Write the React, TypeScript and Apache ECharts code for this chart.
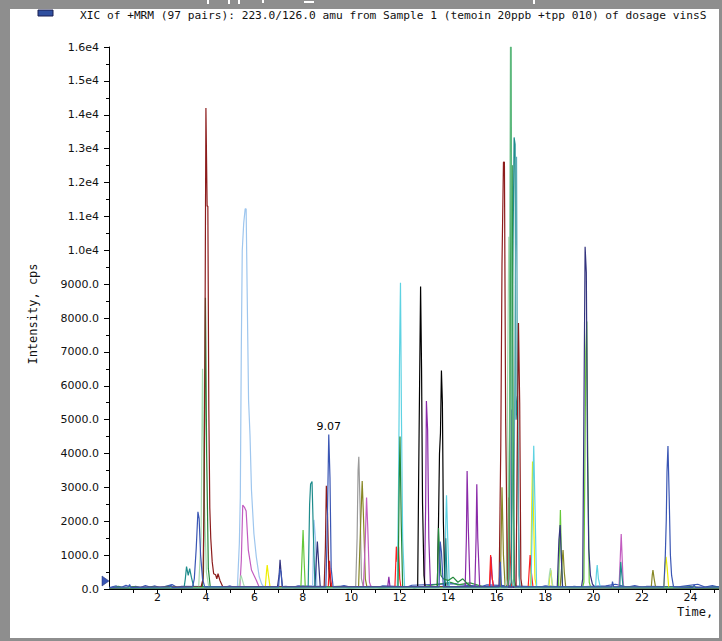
import React, { useEffect, useRef } from "react";
import * as echarts from "echarts";

// ---- data (retention time in min, intensity in cps) ----
const yTickMax = 16000;
const xTickMax = 25.3;

const darkRed: [number, number][] = [
  [0, 40], [3.8, 60], [3.88, 300], [3.92, 2400], [3.96, 7100], [4.0, 14200], [4.02, 14200], [4.05, 11300], [4.08, 11300],
  [4.12, 5300], [4.16, 2400], [4.2, 1500], [4.26, 800], [4.32, 450], [4.4, 420], [4.45, 300], [4.5, 450], [4.58, 250], [4.7, 60],
  [8.88, 60], [8.93, 1200], [8.97, 3050], [9.02, 2200], [9.07, 600], [9.15, 60],
  [16.1, 60], [16.17, 4250], [16.22, 9600], [16.28, 12600], [16.32, 12600], [16.37, 5000], [16.45, 60],
  [16.8, 60], [16.86, 5000], [16.9, 7850], [16.95, 5500], [17.0, 300], [17.05, 50], [25.3, 40],
];

const royalBlue: [number, number][] = [
  [0, 50], [0.8, 60], [0.85, 130], [0.9, 50], [2.5, 60], [2.55, 120], [2.6, 50],
  [3.45, 60], [3.52, 300], [3.6, 1200], [3.67, 2280], [3.72, 2080], [3.78, 1000], [3.86, 300], [3.95, 60],
  [7.0, 60], [7.05, 600], [7.1, 500], [7.15, 60],
  [8.95, 60], [9.0, 1500], [9.07, 4560], [9.12, 3300], [9.17, 600], [9.25, 60],
  [13.62, 60], [13.67, 1400], [13.72, 1100], [13.8, 60],
  [16.1, 60], [16.15, 800], [16.2, 60],
  [20.75, 60], [20.78, 220], [20.83, 60],
  [22.9, 60], [22.96, 1000], [23.0, 2040], [23.03, 3460], [23.07, 4220], [23.12, 2720], [23.17, 1010], [23.22, 400], [23.3, 60],
  [24.1, 50], [24.15, 120], [24.2, 50], [25.3, 60],
];

const navy: [number, number][] = [
  [0, 40], [6.95, 50], [7.02, 400], [7.06, 860], [7.1, 500], [7.16, 50],
  [8.5, 50], [8.56, 900], [8.6, 1400], [8.65, 800], [8.72, 50],
  [18.5, 50], [18.57, 1450], [18.62, 1890], [18.67, 900], [18.72, 50],
  [19.5, 50], [19.55, 300], [19.6, 5100], [19.65, 10100], [19.7, 9350], [19.75, 3900], [19.8, 1200], [19.87, 400], [19.95, 150],
  [20.05, 50], [25.3, 50],
];

const lightBlue: [number, number][] = [
  [0, 30], [5.3, 50], [5.38, 1360], [5.42, 2730], [5.46, 7060], [5.5, 10000], [5.56, 10800], [5.62, 11220], [5.66, 11220],
  [5.7, 8900], [5.76, 5580], [5.82, 4530], [5.88, 2920], [5.98, 1640], [6.08, 950], [6.2, 360], [6.3, 150], [6.4, 50],
  [8.4, 50], [8.46, 2040], [8.52, 1500], [8.58, 50], [25.3, 40],
];

const orchid: [number, number][] = [
  [0, 30], [5.4, 50], [5.46, 830], [5.52, 2480], [5.6, 2400], [5.66, 2300], [5.75, 1150], [5.88, 560], [6.08, 260], [6.2, 50],
  [10.5, 50], [10.58, 1500], [10.63, 2700], [10.68, 1800], [10.75, 200], [10.82, 50],
  [21.05, 50], [21.1, 900], [21.14, 1620], [21.18, 900], [21.23, 50], [25.3, 30],
];

const purple: [number, number][] = [
  [0, 30], [11.5, 50], [11.55, 360], [11.6, 50],
  [13.02, 50], [13.07, 2500], [13.1, 5550], [13.15, 4700], [13.2, 1500], [13.27, 50],
  [14.7, 50], [14.75, 1500], [14.78, 3480], [14.83, 1800], [14.9, 50],
  [15.1, 50], [15.15, 1500], [15.18, 3090], [15.22, 1500], [15.3, 50],
  [15.72, 50], [15.77, 950], [15.82, 300], [15.88, 50],
  [16.5, 50], [16.6, 5300], [16.65, 3500], [16.75, 200], [16.8, 50], [25.3, 30],
];

const teal: [number, number][] = [
  [0, 40], [3.1, 50], [3.15, 300], [3.2, 660], [3.27, 400], [3.33, 600], [3.4, 350], [3.5, 50],
  [8.22, 50], [8.28, 2500], [8.32, 3100], [8.38, 3170], [8.44, 1500], [8.5, 50],
  [13.85, 50], [13.9, 1500], [13.95, 300], [14.0, 50],
  [16.55, 50], [16.6, 200], [16.66, 9000], [16.72, 13330], [16.76, 13130], [16.8, 5000], [16.86, 5700], [16.9, 2000], [16.95, 50],
  [21.08, 50], [21.12, 800], [21.17, 400], [21.22, 50], [25.3, 40],
];

const cadet: [number, number][] = [
  [0, 40], [16.65, 40], [16.7, 300], [16.77, 9000], [16.82, 12760], [16.86, 6000], [16.92, 400], [16.97, 40], [25.3, 40],
];

const cyan: [number, number][] = [
  [0, 30], [11.9, 50], [11.95, 3000], [11.99, 6820], [12.03, 9040], [12.07, 5090], [12.12, 1500], [12.2, 50],
  [13.86, 50], [13.9, 2000], [13.93, 2770], [13.98, 1500], [14.05, 50],
  [17.42, 50], [17.48, 2500], [17.53, 4230], [17.58, 2500], [17.65, 50],
  [20.08, 50], [20.12, 500], [20.15, 710], [20.2, 300], [20.28, 50], [25.3, 30],
];

const green: [number, number][] = [
  [0, 40], [3.85, 50], [3.9, 500], [3.95, 5000], [3.98, 8600], [4.03, 4000], [4.1, 600], [4.18, 50],
  [11.93, 50], [11.98, 3240], [12.01, 4500], [12.06, 2000], [12.12, 50],
  [13.55, 50], [13.6, 1800], [13.65, 1000], [13.7, 400], [13.8, 300], [14.0, 250], [14.2, 350], [14.4, 200], [14.6, 300], [14.8, 150], [15.0, 50],
  [16.45, 50], [16.5, 300], [16.57, 9000], [16.6, 12500], [16.64, 12500], [16.68, 4400], [16.72, 300], [16.78, 50], [25.3, 40],
];

const mint: [number, number][] = [
  [0, 40], [16.44, 40], [16.48, 300], [16.53, 5000], [16.57, 16000], [16.6, 16000], [16.63, 6000], [16.7, 300], [16.75, 40], [25.3, 40],
];

const lime: [number, number][] = [
  [0, 40], [7.92, 50], [7.97, 1000], [8.01, 1740], [8.05, 900], [8.1, 50],
  [18.55, 50], [18.6, 1500], [18.63, 2330], [18.67, 1000], [18.72, 50],
  [19.55, 50], [19.6, 200], [19.68, 7000], [19.72, 7900], [19.76, 3900], [19.82, 200], [19.88, 50], [25.3, 40],
];

const paleGreen: [number, number][] = [
  [0, 30], [3.7, 50], [3.8, 1500], [3.86, 6500], [3.92, 3000], [4.02, 500], [4.12, 50],
  [5.35, 50], [5.45, 400], [5.55, 150], [5.6, 40],
  [16.35, 40], [16.4, 300], [16.45, 6000], [16.5, 10400], [16.55, 8000], [16.62, 300], [16.68, 40],
  [18.12, 40], [18.18, 450], [18.22, 620], [18.27, 300], [18.33, 40], [25.3, 30],
];

const olive: [number, number][] = [
  [0, 30], [10.3, 50], [10.38, 1800], [10.45, 3190], [10.5, 2200], [10.58, 300], [10.65, 40],
  [16.15, 50], [16.22, 3000], [16.28, 1000], [16.35, 50],
  [18.62, 50], [18.7, 800], [18.74, 1150], [18.79, 500], [18.85, 50],
  [22.38, 50], [22.42, 400], [22.45, 560], [22.5, 300], [22.56, 50], [25.3, 30],
];

const gray: [number, number][] = [
  [0, 30], [10.18, 50], [10.24, 1500], [10.28, 3500], [10.31, 3900], [10.36, 2500], [10.42, 300], [10.5, 50], [25.3, 30],
];

const black: [number, number][] = [
  [0, 30], [12.74, 50], [12.78, 3270], [12.82, 6120], [12.86, 8930], [12.9, 6500], [12.94, 2540], [13.0, 400], [13.05, 50],
  [13.55, 50], [13.6, 2000], [13.64, 4000], [13.68, 4600], [13.72, 6450], [13.76, 5500], [13.8, 2000], [13.86, 200], [13.92, 50], [25.3, 30],
];

const red: [number, number][] = [
  [0, 30], [9.05, 50], [9.1, 830], [9.15, 300], [9.2, 50],
  [11.8, 50], [11.86, 1250], [11.9, 800], [11.95, 1250], [12.0, 300], [12.05, 50],
  [15.7, 50], [15.75, 1000], [15.8, 400], [15.87, 50],
  [16.42, 50], [16.45, 200], [16.5, 2700], [16.55, 1200], [16.62, 50],
  [17.3, 50], [17.38, 1000], [17.43, 500], [17.5, 50], [25.3, 30],
];

const yellow: [number, number][] = [
  [0, 30], [6.45, 50], [6.5, 500], [6.53, 710], [6.58, 400], [6.65, 50],
  [17.37, 50], [17.4, 200], [17.45, 2500], [17.48, 3760], [17.52, 2200], [17.58, 300], [17.65, 50],
  [18.15, 50], [18.2, 400], [18.24, 550], [18.3, 50],
  [22.9, 50], [22.95, 700], [22.99, 950], [23.04, 600], [23.1, 50], [25.3, 30],
];

const blueNoise: [number, number][] = [
  [0.1, 60], [0.3, 90], [0.5, 40], [0.7, 110], [0.9, 50], [1.1, 80], [1.3, 40], [1.5, 100], [1.7, 60], [1.9, 90],
  [2.1, 40], [2.3, 70], [2.6, 130], [2.8, 50], [3.0, 80], [4.8, 60], [5.0, 90], [5.2, 40], [6.4, 70], [6.7, 40],
  [7.3, 80], [7.6, 50], [7.8, 90], [9.4, 60], [9.7, 100], [10.0, 50], [10.8, 80], [11.1, 50], [11.3, 90], [12.3, 60],
  [12.5, 110], [14.3, 160], [14.5, 120], [15.4, 80], [15.6, 120], [17.8, 60], [18.0, 90], [18.9, 50], [19.2, 80],
  [19.4, 60], [20.5, 90], [20.9, 140], [21.4, 60], [21.7, 100], [22.0, 50], [22.2, 80], [23.5, 60], [23.8, 90],
  [24.3, 140], [24.6, 60], [24.9, 100], [25.2, 50],
];

const greenNoise: [number, number][] = [
  [0.2, 40], [0.4, 80], [0.6, 30], [1.0, 70], [1.4, 30], [1.8, 60], [2.2, 30], [2.4, 80], [2.9, 40], [4.9, 70],
  [5.1, 30], [6.6, 60], [6.9, 30], [7.4, 70], [7.7, 30], [9.5, 80], [9.9, 30], [10.9, 60], [11.2, 30], [12.4, 70],
  [12.6, 30], [14.1, 200], [14.4, 120], [14.9, 180], [15.5, 60], [17.9, 40], [18.4, 70], [19.1, 30], [20.4, 60],
  [20.7, 30], [21.5, 70], [21.9, 30], [22.7, 60], [23.6, 40], [24.0, 70], [24.5, 30], [25.0, 60], [25.3, 40],
];

const traces = [
  { name: "blueNoise", color: "#3a56b4", data: blueNoise },
  { name: "greenNoise", color: "#2e9a40", data: greenNoise },
  { name: "gray", color: "#9a9a9a", data: gray },
  { name: "olive", color: "#878724", data: olive },
  { name: "lightBlue", color: "#9ec6ee", data: lightBlue },
  { name: "orchid", color: "#c25cc0", data: orchid },
  { name: "purple", color: "#8a2aa8", data: purple },
  { name: "yellow", color: "#eeee00", data: yellow },
  { name: "red", color: "#ff2020", data: red },
  { name: "paleGreen", color: "#a6dab0", data: paleGreen },
  { name: "lime", color: "#66c83a", data: lime },
  { name: "cyan", color: "#5ed2e2", data: cyan },
  { name: "black", color: "#000000", data: black },
  { name: "navy", color: "#33337e", data: navy },
  { name: "teal", color: "#1e8c8c", data: teal },
  { name: "cadet", color: "#5aaab6", data: cadet },
  { name: "green", color: "#23883a", data: green },
  { name: "darkRed", color: "#8c1c1c", data: darkRed },
  { name: "mint", color: "#5cb87c", data: mint },
  { name: "royalBlue", color: "#3a56b4", data: royalBlue },
];

const peakLabelTime = 9.07;
const peakLabelValue = 4560;

const titleText =
  "XIC of +MRM (97 pairs): 223.0/126.0 amu from Sample 1 (temoin 20ppb +tpp 010) of dosage vinsS";

const FONT = "DejaVu Sans";
const MONO = "DejaVu Sans Mono";

function yLabel(v: number): string {
  if (v >= 10000) return (v / 10000).toFixed(1) + "e4";
  return v.toFixed(1);
}

export default function App() {
  const ref = useRef<HTMLDivElement>(null);
  useEffect(() => {
    if (!ref.current) return;
    const chart = echarts.init(ref.current, null, { renderer: "svg" });
    const frame = "#8e8e8e";
    const option: any = {
      animation: false,
      backgroundColor: "#ffffff",
      grid: { left: 109, top: 47, right: 0, bottom: 52, containLabel: false },
      xAxis: {
        type: "value",
        min: 0,
        max: xTickMax,
        interval: 1,
        axisLine: { show: true, lineStyle: { color: "#000", width: 1 } },
        axisTick: { show: true, inside: false, length: 4, lineStyle: { color: "#000" } },
        axisLabel: {
          show: true,
          margin: 3,
          showMaxLabel: false,
          showMinLabel: false,
          color: "#111",
          fontSize: 11,
          fontFamily: FONT,
          formatter: (v: number) => (v > 0 && v <= 24 && Math.round(v) % 2 === 0 ? String(Math.round(v)) : ""),
        },
        splitLine: { show: false },
      },
      yAxis: {
        type: "value",
        min: 0,
        max: yTickMax,
        interval: 1000,
        axisLine: { show: true, lineStyle: { color: "#000", width: 1 } },
        axisTick: { show: true, inside: false, length: 5, lineStyle: { color: "#000" } },
        minorTick: { show: true, splitNumber: 2, length: 3, lineStyle: { color: "#000" } },
        axisLabel: { margin: 10, color: "#111", fontSize: 11, fontFamily: FONT, formatter: yLabel },
        splitLine: { show: false },
      },
      series: traces.map((t) => ({
        name: t.name,
        type: "line",
        data: t.data,
        showSymbol: false,
        symbol: "none",
        silent: true,
        clip: true,
        lineStyle: { color: t.color, width: 1.2 },
        itemStyle: { color: t.color },
        markPoint:
          t.name === "royalBlue"
            ? {
                silent: true,
                symbol: "rect",
                symbolSize: [1, 1],
                itemStyle: { color: "rgba(0,0,0,0)" },
                data: [
                  {
                    coord: [peakLabelTime, peakLabelValue],
                    label: {
                      show: true,
                      position: "top",
                      distance: 2,
                      formatter: peakLabelTime.toFixed(2),
                      color: "#000",
                      fontSize: 11,
                      fontFamily: FONT,
                    },
                  },
                ],
              }
            : undefined,
      })),
      graphic: [
        { type: "rect", z: 100, shape: { x: 0, y: 0, width: 10, height: 641 }, style: { fill: frame } },
        { type: "rect", z: 100, shape: { x: 0, y: 0, width: 722, height: 9 }, style: { fill: frame } },
        { type: "rect", z: 100, shape: { x: 719, y: 0, width: 3, height: 641 }, style: { fill: frame } },
        { type: "rect", z: 100, shape: { x: 0, y: 638, width: 722, height: 3 }, style: { fill: frame } },
        // white descenders of the cut-off heading in the top band
        { type: "rect", z: 101, shape: { x: 207, y: 0, width: 2, height: 4 }, style: { fill: "#fff" } },
        { type: "rect", z: 101, shape: { x: 228, y: 0, width: 2, height: 4 }, style: { fill: "#fff" } },
        { type: "rect", z: 101, shape: { x: 238, y: 0, width: 2, height: 4 }, style: { fill: "#fff" } },
        { type: "rect", z: 101, shape: { x: 262, y: 0, width: 2, height: 3 }, style: { fill: "#fff" } },
        { type: "rect", z: 101, shape: { x: 304, y: 1, width: 10, height: 2 }, style: { fill: "#fff" } },
        { type: "rect", z: 101, shape: { x: 533, y: 0, width: 2, height: 4 }, style: { fill: "#fff" } },
        // legend swatch + title
        { type: "rect", z: 100, shape: { x: 38, y: 10, width: 15, height: 6 }, style: { fill: "#2f4f9f", stroke: "#1a1f50", lineWidth: 1 } },
        {
          type: "text",
          z: 100,
          x: 80,
          y: 15,
          style: { text: titleText, fill: "#111", fontSize: 11.2, fontFamily: MONO, align: "left", verticalAlign: "middle" },
        },
        {
          type: "text",
          z: 100,
          x: 33,
          y: 314,
          rotation: Math.PI / 2,
          style: { text: "Intensity, cps", fill: "#111", fontSize: 12, fontFamily: MONO, align: "center", verticalAlign: "middle" },
        },
        {
          type: "text",
          z: 100,
          x: 677,
          y: 612,
          style: { text: "Time,", fill: "#111", fontSize: 12, fontFamily: MONO, align: "left", verticalAlign: "middle" },
        },
        {
          type: "polygon",
          z: 100,
          shape: { points: [[102, 576], [109, 581], [102, 586]] },
          style: { fill: "#3a56b4", stroke: "#1a2a70", lineWidth: 0.5 },
        },
      ],
    };
    chart.setOption(option);
    return () => chart.dispose();
  }, []);
  return (
    <div
      ref={ref}
      style={{ position: "fixed", left: 0, top: 0, width: 722, height: 641, overflow: "hidden", background: "#fff" }}
    />
  );
}
